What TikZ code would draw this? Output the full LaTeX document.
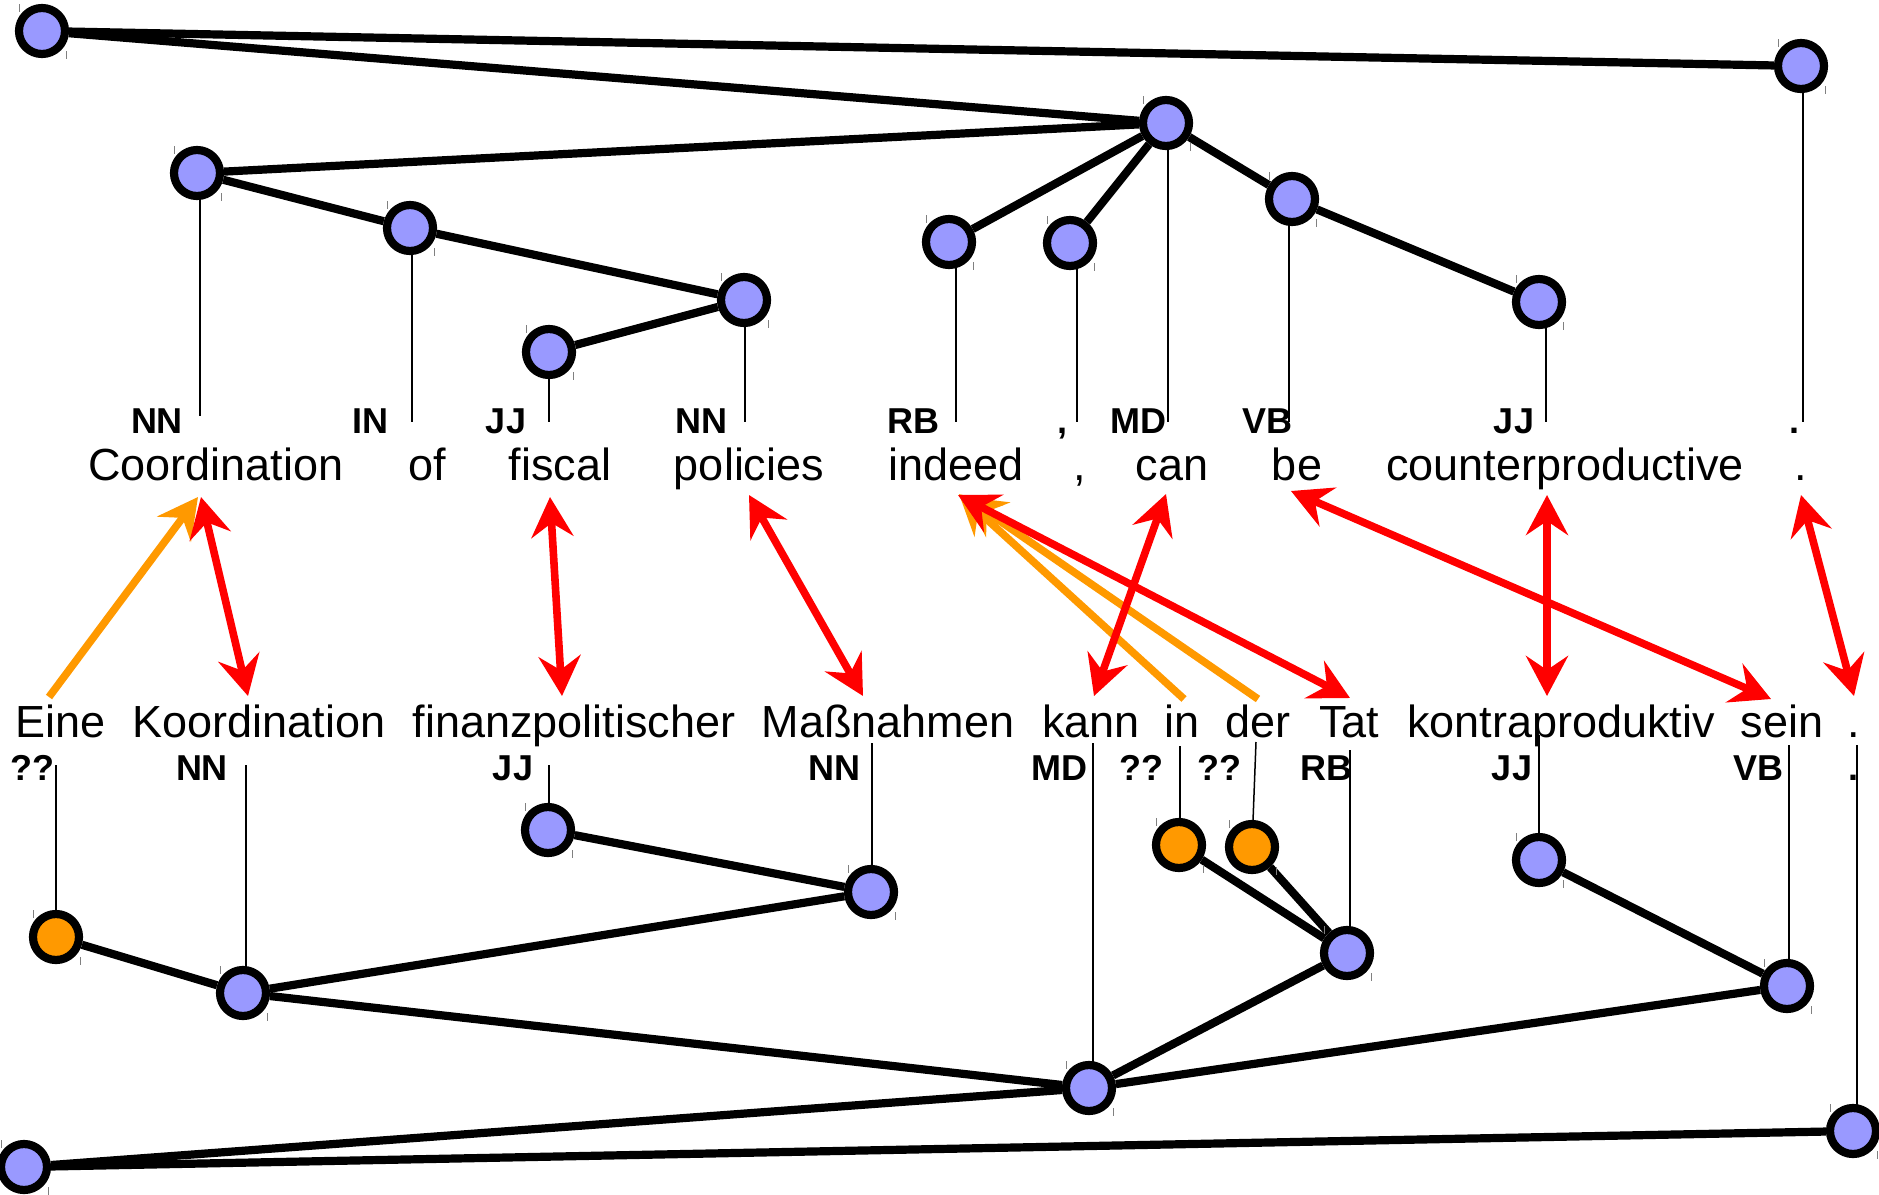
\documentclass[tikz,border=0pt]{standalone}
\usepackage{fontspec}
\setmainfont{Liberation Sans}
\usetikzlibrary{arrows.meta,backgrounds}
\definecolor{nodeblue}{RGB}{153,153,255}
\definecolor{nodeorange}{RGB}{255,153,0}
\definecolor{alignred}{RGB}{255,0,0}
\begin{document}
\begin{tikzpicture}[x=0.5pt,y=-0.5pt,
  tnode/.style={circle,draw=black,line width=4.1pt,minimum size=23pt,inner sep=0pt},
  bluenode/.style={tnode,fill=nodeblue},
  orangenode/.style={tnode,fill=nodeorange},
  treeedge/.style={line width=4.1pt,black},
  stem/.style={line width=0.75pt,black},
  word/.style={inner sep=0pt,anchor=base,font=\fontsize{22.5pt}{27pt}\selectfont},
  tag/.style={inner sep=0pt,anchor=base,font=\fontsize{18pt}{21pt}\selectfont\bfseries},
  redarrow/.style={alignred,line width=3.8pt,{Stealth[length=20pt,width=21pt,inset=7pt]}-{Stealth[length=20pt,width=21pt,inset=7pt]}},
  orangearrow/.style={nodeorange,line width=3.8pt,-{Stealth[length=20pt,width=21pt,inset=7pt]}},
  tickmark/.style={line width=0.5pt,gray}]
\useasboundingbox (0,0) rectangle (1879,1194);

% ---------- top tree nodes ----------
\node[bluenode] (T0) at (42,31) {};
\node[bluenode] (Tdot) at (1801,66) {};
\node[bluenode] (Tcan) at (1166,123) {};
\node[bluenode] (Tcoord) at (197,173) {};
\node[bluenode] (Tof) at (410,228) {};
\node[bluenode] (Tpol) at (744,300) {};
\node[bluenode] (Tfis) at (549,352) {};
\node[bluenode] (Tind) at (949,242) {};
\node[bluenode] (Tcom) at (1070,243) {};
\node[bluenode] (Tbe) at (1292,199) {};
\node[bluenode] (Tctr) at (1539,302) {};

% ---------- bottom tree nodes ----------
\node[orangenode] (Beine) at (56,937) {};
\node[bluenode] (Bkoord) at (243,993) {};
\node[bluenode] (Bfin) at (548,830) {};
\node[bluenode] (Bmass) at (871,892) {};
\node[bluenode] (Bkann) at (1089,1088) {};
\node[orangenode] (Bin) at (1179,845) {};
\node[orangenode] (Bder) at (1252,847) {};
\node[bluenode] (Btat) at (1347,953) {};
\node[bluenode] (Bkon) at (1539,860) {};
\node[bluenode] (Bsein) at (1787,986) {};
\node[bluenode] (Bdot) at (1853,1131) {};
\node[bluenode] (Broot) at (24,1167) {};

% ---------- stem end coordinates ----------
\coordinate (sCoord) at (200,416);
\coordinate (sOf) at (412,422);
\coordinate (sFis) at (549,422);
\coordinate (sPol) at (745,422);
\coordinate (sInd) at (956,422);
\coordinate (sCom) at (1077,422);
\coordinate (sCan) at (1168,422);
\coordinate (sBe) at (1289,422);
\coordinate (sCtr) at (1546,422);
\coordinate (sDot) at (1803,422);

\coordinate (bEine) at (56,765);
\coordinate (bKoord) at (246,765);
\coordinate (bFin) at (549,765);
\coordinate (bMass) at (872,743);
\coordinate (bKann) at (1093,743);
\coordinate (bIn) at (1180,746);
\coordinate (bDer) at (1256,742);
\coordinate (bTat) at (1350,750);
\coordinate (bKon) at (1539,735);
\coordinate (bSein) at (1789,745);
\coordinate (bDot) at (1857,745);

\begin{scope}[on background layer]
  % top tree edges
  \draw[treeedge] (T0) -- (Tdot);
  \draw[treeedge] (T0) -- (Tcan);
  \draw[treeedge] (Tcan) -- (Tcoord);
  \draw[treeedge] (Tcan) -- (Tind);
  \draw[treeedge] (Tcan) -- (Tcom);
  \draw[treeedge] (Tcan) -- (Tbe);
  \draw[treeedge] (Tbe) -- (Tctr);
  \draw[treeedge] (Tcoord) -- (Tof);
  \draw[treeedge] (Tof) -- (Tpol);
  \draw[treeedge] (Tpol) -- (Tfis);
  % bottom tree edges
  \draw[treeedge] (Beine) -- (Bkoord);
  \draw[treeedge] (Bkoord) -- (Bmass);
  \draw[treeedge] (Bfin) -- (Bmass);
  \draw[treeedge] (Bkoord) -- (Bkann);
  \draw[treeedge] (Bkann) -- (Btat);
  \draw[treeedge] (Bin) -- (Btat);
  \draw[treeedge] (Bder) -- (Btat);
  \draw[treeedge] (Bkann) -- (Bsein);
  \draw[treeedge] (Bkon) -- (Bsein);
  \draw[treeedge] (Bkann) -- (Broot);
  \draw[treeedge] (Broot) -- (Bdot);
  % stems
  \draw[stem] (Tcoord.center -| sCoord) -- (sCoord);
  \draw[stem] (Tof.center -| sOf) -- (sOf);
  \draw[stem] (Tfis.center -| sFis) -- (sFis);
  \draw[stem] (Tpol.center -| sPol) -- (sPol);
  \draw[stem] (Tind.center -| sInd) -- (sInd);
  \draw[stem] (Tcom.center -| sCom) -- (sCom);
  \draw[stem] (Tcan.center -| sCan) -- (sCan);
  \draw[stem] (Tbe.center -| sBe) -- (sBe);
  \draw[stem] (Tctr.center -| sCtr) -- (sCtr);
  \draw[stem] (Tdot.center -| sDot) -- (sDot);
  \draw[stem] (bEine) -- (Beine.center -| bEine);
  \draw[stem] (bKoord) -- (Bkoord.center -| bKoord);
  \draw[stem] (bFin) -- (Bfin.center -| bFin);
  \draw[stem] (bMass) -- (Bmass.center -| bMass);
  \draw[stem] (bKann) -- (Bkann.center -| bKann);
  \draw[stem] (bIn) -- (Bin.center -| bIn);
  \draw[stem] (bDer) -- (Bder.center);
  \draw[stem] (bTat) -- (Btat.center -| bTat);
  \draw[stem] (bKon) -- (Bkon.center -| bKon);
  \draw[stem] (bSein) -- (Bsein.center -| bSein);
  \draw[stem] (bDot) -- (Bdot.center -| bDot);
\end{scope}

% ticks
\foreach \n in {T0,Tdot,Tcan,Tcoord,Tof,Tpol,Tfis,Tind,Tcom,Tbe,Tctr,Beine,Bkoord,Bfin,Bmass,Bkann,Bin,Bder,Btat,Bkon,Bsein,Bdot,Broot}{
  \draw[tickmark] ([shift={(-23,-27)}]\n.center) -- ++(0,8);
  \draw[tickmark] ([shift={(24,20)}]\n.center) -- ++(0,8);
}

% ---------- top tags ----------
\node[tag] (tgCoord) at (157,433) {NN};
\node[tag] (tgOf) at (370,433) {IN};
\node[tag] (tgFis) at (506,433) {JJ};
\node[tag] (tgPol) at (701,433) {NN};
\node[tag] (tgInd) at (913,433) {RB};
\node[tag] (tgCom) at (1062,433) {,};
\node[tag] (tgCan) at (1138,433) {MD};
\node[tag] (tgBe) at (1267,433) {VB};
\node[tag] (tgCtr) at (1514,433) {JJ};
\node[tag] (tgDot) at (1794,433) {.};

% ---------- top words ----------
\node[word] (wCoord) at (216,480) {Coordination};
\node[word] (wOf) at (427,480) {of};
\node[word] (wFis) at (560,480) {fiscal};
\node[word] (wPol) at (749,480) {policies};
\node[word] (wInd) at (956,480) {indeed};
\node[word] (wCom) at (1080,480) {,};
\node[word] (wCan) at (1172,480) {can};
\node[word] (wBe) at (1297,480) {be};
\node[word] (wCtr) at (1565,480) {counterproductive};
\node[word] (wDot) at (1801,480) {.};

% ---------- bottom words ----------
\node[word] (gEine) at (61,737) {Eine};
\node[word] (gKoord) at (259,737) {Koordination};
\node[word] (gFin) at (574,737) {finanzpolitischer};
\node[word] (gMass) at (888,737) {Maßnahmen};
\node[word] (gKann) at (1091,737) {kann};
\node[word] (gIn) at (1182,737) {in};
\node[word] (gDer) at (1258,737) {der};
\node[word] (gTat) at (1349,737) {Tat};
\node[word] (gKon) at (1561,737) {kontraproduktiv};
\node[word] (gSein) at (1782,737) {sein};
\node[word] (gDot) at (1854,737) {.};

% ---------- bottom tags ----------
\node[tag] (btEine) at (32,780) {??};
\node[tag] (btKoord) at (202,780) {NN};
\node[tag] (btFin) at (513,780) {JJ};
\node[tag] (btMass) at (834,780) {NN};
\node[tag] (btKann) at (1059,780) {MD};
\node[tag] (btIn) at (1141,780) {??};
\node[tag] (btDer) at (1219,780) {??};
\node[tag] (btTat) at (1326,780) {RB};
\node[tag] (btKon) at (1512,780) {JJ};
\node[tag] (btSein) at (1758,780) {VB};
\node[tag] (btDot) at (1853,780) {.};

% ---------- alignment arrow ends ----------
\coordinate (aCoordT) at (201,497);  \coordinate (aKoordB) at (248,696);
\coordinate (aFisT) at (550,497);    \coordinate (aFinB) at (562,696);
\coordinate (aPolT) at (749,495);    \coordinate (aMassB) at (863,696);
\coordinate (aIndT) at (958,495);    \coordinate (aTatB) at (1350,698);
\coordinate (aCanT) at (1166,494);   \coordinate (aKannB) at (1094,696);
\coordinate (aBeT) at (1291,491);    \coordinate (aSeinB) at (1771,699);
\coordinate (aCtrT) at (1547,495);   \coordinate (aKonB) at (1547,696);
\coordinate (aDotT) at (1801,495);   \coordinate (aDotB) at (1854,696);
\coordinate (oEine) at (49,697);     \coordinate (oCoordT) at (198,497);
\coordinate (oIn) at (1184,699);     \coordinate (oIndT1) at (959,494);
\coordinate (oDer) at (1258,699);    \coordinate (oIndT2) at (965,497);

% orange (one-way)
\draw[orangearrow] (oEine) -- (oCoordT);
\draw[orangearrow] (oIn) -- (oIndT1);
\draw[orangearrow] (oDer) -- (oIndT2);
% red (two-way)
\draw[redarrow] (aCoordT) -- (aKoordB);
\draw[redarrow] (aFisT) -- (aFinB);
\draw[redarrow] (aPolT) -- (aMassB);
\draw[redarrow] (aIndT) -- (aTatB);
\draw[redarrow] (aCanT) -- (aKannB);
\draw[redarrow] (aBeT) -- (aSeinB);
\draw[redarrow] (aCtrT) -- (aKonB);
\draw[redarrow] (aDotT) -- (aDotB);
\end{tikzpicture}
\end{document}
